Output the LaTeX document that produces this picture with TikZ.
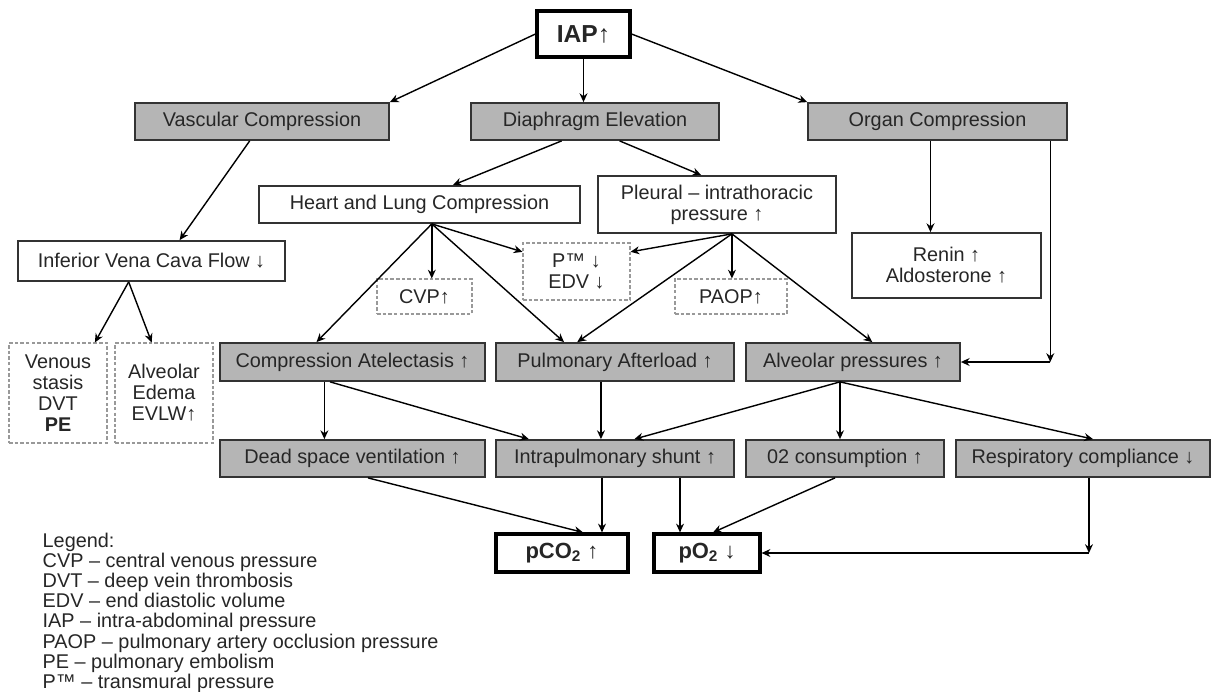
\documentclass[tikz,border=0pt]{standalone}
\usepackage{fontspec}
\setmainfont{Liberation Sans}
\usetikzlibrary{arrows.meta}
\definecolor{boxgray}{RGB}{181,181,181}
\tikzset{
  box/.style={draw=black!80, line width=1pt, inner sep=0pt, align=center,
    font=\fontsize{11.3}{12}\selectfont, text=black!85},
  graybox/.style={box, fill=boxgray},
  whitebox/.style={box, fill=white},
  dotbox/.style={box, draw=black!40, line width=0.6pt, dash pattern=on 2pt off 1.2pt},
  keybox/.style={box, draw=black, line width=1.8pt, font=\fontsize{12.5}{14}\selectfont\bfseries},
}
\begin{document}
\begin{tikzpicture}[x=0.02cm, y=-0.02cm, >={Stealth[length=5pt,width=4.5pt]}, line width=0.8pt]
      \useasboundingbox (0,0) rectangle (1211,691);

      \node [keybox, font=\fontsize{14}{16}\selectfont\bfseries, minimum width=1.86cm, minimum height=0.92cm] (iap) at (583.5,34) {IAP{\mdseries↑}};

      \node [graybox, minimum width=5.08cm, minimum height=0.74cm] (vasc) at (262,121.5) {Vascular Compression};
      \node [graybox, minimum width=4.96cm, minimum height=0.74cm] (diaph) at (595,121.5) {Diaphragm Elevation};
      \node [graybox, minimum width=5.18cm, minimum height=0.74cm] (organ) at (937.5,121.5) {Organ Compression};

      \node [whitebox, minimum width=6.42cm, minimum height=0.74cm] (heart) at (419.5,204.5) {Heart and Lung Compression};
      \node [whitebox, minimum width=4.76cm, minimum height=1.14cm] (pleural) at (717,204.5) {Pleural – intrathoracic\\pressure ↑};
      \node [whitebox, minimum width=5.34cm, minimum height=0.80cm] (ivc) at (151.5,261) {Inferior Vena Cava Flow ↓};
      \node [whitebox, minimum width=3.78cm, minimum height=1.30cm] (renin) at (946.5,265.5) {Renin ↑\\Aldosterone ↑};

      \node [dotbox, minimum width=2.14cm, minimum height=1.14cm] (ptm) at (576.5,271.5) {P™ ↓\\EDV ↓};
      \node [dotbox, minimum width=1.90cm, minimum height=0.70cm] (cvp) at (424.5,296.5) {CVP↑};
      \node [dotbox, minimum width=2.24cm, minimum height=0.70cm] (paop) at (731,296.5) {PAOP↑};
      \node [dotbox, minimum width=1.96cm, minimum height=2.00cm] (venous) at (58,393) {Venous\\stasis\\DVT\\\textbf{PE}};
      \node [dotbox, minimum width=1.96cm, minimum height=2.00cm] (edema) at (164,393) {Alveolar\\Edema\\EVLW↑};

      \node [graybox, minimum width=5.30cm, minimum height=0.76cm] (atel) at (352.5,362) {Compression Atelectasis ↑};
      \node [graybox, minimum width=4.76cm, minimum height=0.76cm] (afterload) at (615,362) {Pulmonary Afterload ↑};
      \node [graybox, minimum width=4.28cm, minimum height=0.76cm] (alvp) at (853,362) {Alveolar pressures ↑};

      \node [graybox, minimum width=5.30cm, minimum height=0.74cm] (dead) at (352.5,458.5) {Dead space ventilation ↑};
      \node [graybox, minimum width=4.76cm, minimum height=0.74cm] (shunt) at (615,458.5) {Intrapulmonary shunt ↑};
      \node [graybox, minimum width=3.96cm, minimum height=0.74cm] (otwo) at (845,458.5) {02 consumption ↑};
      \node [graybox, minimum width=5.08cm, minimum height=0.74cm] (compl) at (1083,458.5) {Respiratory compliance ↓};

      \node [keybox, minimum width=2.64cm, minimum height=0.76cm] (pco) at (562,553) {pCO\textsubscript{2} {\mdseries↑}};
      \node [keybox, minimum width=2.12cm, minimum height=0.76cm] (po) at (707,553) {pO\textsubscript{2} {\mdseries↓}};

      \node [anchor=north west, align=left, inner sep=0pt, font=\fontsize{11.3}{11.5}\selectfont, text=black!85] (legend) at (42,532)
        {Legend:\\CVP – central venous pressure\\DVT – deep vein thrombosis\\EDV – end diastolic volume\\IAP – intra-abdominal pressure\\PAOP – pulmonary artery occlusion pressure\\PE – pulmonary embolism\\P™ – transmural pressure};

      % split points
      \coordinate (hl) at ([xshift=7pt]heart.south);
      \coordinate (pl) at ([xshift=8.5pt]pleural.south);
      \coordinate (vc) at ([xshift=-13pt]ivc.south);
      \coordinate (ap) at ([xshift=-7.4pt]alvp.south);
      \coordinate (bend1) at ([xshift=-10pt]organ.south east |- alvp.east);
      \coordinate (bend2) at ([xshift=3.4pt]compl.south |- po.east);

      \draw [->] (iap.west) -- (vasc.north east);
      \draw [->] (iap.south) -- (iap.south |- diaph.north);
      \draw [->] (iap.east) -- (organ.north west);

      \draw [->] ([xshift=-7pt]vasc.south) -- ([xshift=16pt]ivc.north);
      \draw [->] ([xshift=-19pt]diaph.south) -- ([xshift=19pt]heart.north);
      \draw [->] ([xshift=14pt]diaph.south) -- ([xshift=-9pt]pleural.north);
      \draw [->] ([xshift=-4pt]organ.south) -- ([xshift=-4pt]organ.south |- renin.north);
      \draw [->] ([xshift=-10pt]organ.south east) -- (bend1);
      \draw [->] (bend1) -- (alvp.east);

      \draw [->] (vc) -- ([xshift=21pt]venous.north);
      \draw [->] (vc) -- ([xshift=-7pt]edema.north);

      \draw [->] (hl) -- (hl |- cvp.north);
      \draw [->] (hl) -- (ptm.160);
      \draw [->] (hl) -- ([xshift=-20.5pt]atel.north);
      \draw [->] (hl) -- ([xshift=-29pt]afterload.north);

      \draw [->] (pl) -- (ptm.20);
      \draw [->] (pl) -- (pl |- paop.north);
      \draw [->] (pl) -- ([xshift=-21.5pt]afterload.north);
      \draw [->] (pl) -- ([xshift=11pt]alvp.north);

      \draw [->] ([xshift=-16pt]atel.south) -- ([xshift=-16pt]atel.south |- dead.north);
      \draw [->] ([xshift=-12.75pt]atel.south) -- ([xshift=-49pt]shunt.north);
      \draw [->] ([xshift=-8pt]afterload.south) -- ([xshift=-8pt]afterload.south |- shunt.north);
      \draw [->] (ap) -- ([xshift=11pt]shunt.north);
      \draw [->] (ap) -- (ap |- otwo.north);
      \draw [->] (ap) -- ([xshift=5.7pt]compl.north);

      \draw [->] ([xshift=8.8pt]dead.south) -- ([xshift=12pt]pco.north);
      \draw [->] ([xshift=-7.4pt]shunt.south) -- ([xshift=-7.4pt]shunt.south |- pco.north);
      \draw [->] ([xshift=37pt]shunt.south) -- ([xshift=37pt]shunt.south |- po.north);
      \draw [->] ([xshift=-5.7pt]otwo.south) -- ([xshift=3.4pt]po.north);
      \draw [->] ([xshift=3.4pt]compl.south) -- (bend2);
      \draw [->] (bend2) -- (po.east);
    \end{tikzpicture}
\end{document}
